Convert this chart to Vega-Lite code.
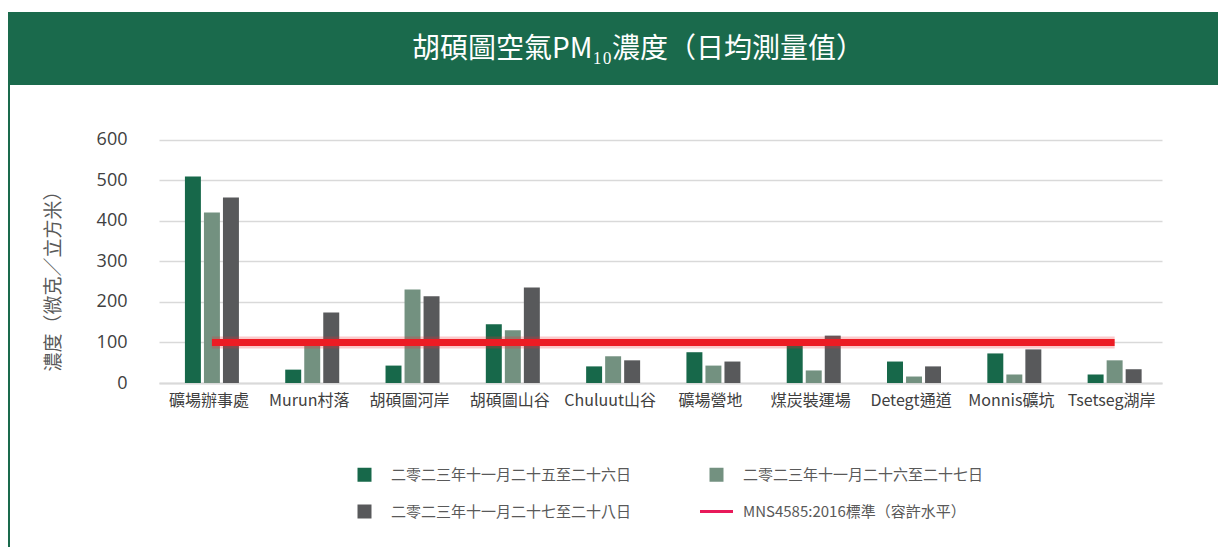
{
  "$schema": "https://vega.github.io/schema/vega-lite/v6.json",
  "padding": {"left": 8, "top": 12, "right": 0, "bottom": 0},
  "background": "white",
  "spacing": 0,
  "config": {
    "view": {"stroke": null},
    "font": "Noto Sans CJK TC",
    "concat": {"spacing": 0}
  },
  "datasets": {
    "title": [{"t": "胡碩圖空氣PM₁₀濃度（日均測量值）"}],
    "pm": [
      {"site": "礦場辦事處", "period": "二零二三年十一月二十五至二十六日", "value": 510},
      {"site": "礦場辦事處", "period": "二零二三年十一月二十六至二十七日", "value": 421},
      {"site": "礦場辦事處", "period": "二零二三年十一月二十七至二十八日", "value": 458},
      {"site": "Murun村落", "period": "二零二三年十一月二十五至二十六日", "value": 33},
      {"site": "Murun村落", "period": "二零二三年十一月二十六至二十七日", "value": 97},
      {"site": "Murun村落", "period": "二零二三年十一月二十七至二十八日", "value": 174},
      {"site": "胡碩圖河岸", "period": "二零二三年十一月二十五至二十六日", "value": 43},
      {"site": "胡碩圖河岸", "period": "二零二三年十一月二十六至二十七日", "value": 231},
      {"site": "胡碩圖河岸", "period": "二零二三年十一月二十七至二十八日", "value": 214},
      {"site": "胡碩圖山谷", "period": "二零二三年十一月二十五至二十六日", "value": 145},
      {"site": "胡碩圖山谷", "period": "二零二三年十一月二十六至二十七日", "value": 130},
      {"site": "胡碩圖山谷", "period": "二零二三年十一月二十七至二十八日", "value": 236},
      {"site": "Chuluut山谷", "period": "二零二三年十一月二十五至二十六日", "value": 41},
      {"site": "Chuluut山谷", "period": "二零二三年十一月二十六至二十七日", "value": 66},
      {"site": "Chuluut山谷", "period": "二零二三年十一月二十七至二十八日", "value": 56},
      {"site": "礦場營地", "period": "二零二三年十一月二十五至二十六日", "value": 76},
      {"site": "礦場營地", "period": "二零二三年十一月二十六至二十七日", "value": 43},
      {"site": "礦場營地", "period": "二零二三年十一月二十七至二十八日", "value": 53},
      {"site": "煤炭裝運場", "period": "二零二三年十一月二十五至二十六日", "value": 97},
      {"site": "煤炭裝運場", "period": "二零二三年十一月二十六至二十七日", "value": 31},
      {"site": "煤炭裝運場", "period": "二零二三年十一月二十七至二十八日", "value": 117},
      {"site": "Detegt通道", "period": "二零二三年十一月二十五至二十六日", "value": 53},
      {"site": "Detegt通道", "period": "二零二三年十一月二十六至二十七日", "value": 16},
      {"site": "Detegt通道", "period": "二零二三年十一月二十七至二十八日", "value": 41},
      {"site": "Monnis礦坑", "period": "二零二三年十一月二十五至二十六日", "value": 73},
      {"site": "Monnis礦坑", "period": "二零二三年十一月二十六至二十七日", "value": 21},
      {"site": "Monnis礦坑", "period": "二零二三年十一月二十七至二十八日", "value": 83},
      {"site": "Tsetseg湖岸", "period": "二零二三年十一月二十五至二十六日", "value": 21},
      {"site": "Tsetseg湖岸", "period": "二零二三年十一月二十六至二十七日", "value": 56},
      {"site": "Tsetseg湖岸", "period": "二零二三年十一月二十七至二十八日", "value": 34}
    ],
    "std": [{"from": "礦場辦事處", "to": "Tsetseg湖岸", "limit": 100}]
  },
  "vconcat": [
    {
      "width": 1210,
      "height": 73,
      "view": {"fill": "#1a6a4c", "stroke": null},
      "data": {"name": "title"},
      "mark": {"type": "text", "color": "white", "fontSize": 28, "font": "Noto Sans CJK TC", "dx": 25, "dy": 1, "baseline": "middle", "align": "center"},
      "encoding": {"text": {"field": "t"}}
    },
    {
      "spacing": 34,
      "hconcat": [
        {
          "width": 2,
          "height": 462,
          "view": {"fill": "#1a6a4c", "stroke": null},
          "data": {"values": [{"e": ""}]},
          "mark": {"type": "text"},
          "encoding": {"text": {"field": "e"}}
        },
        {
          "width": 1003,
          "height": 298,
          "layer": [
            {
              "data": {"name": "pm"},
              "mark": {"type": "bar"},
              "encoding": {
                "x": {
                  "field": "site", "type": "nominal",
                  "scale": {
                    "domain": ["礦場辦事處", "Murun村落", "胡碩圖河岸", "胡碩圖山谷", "Chuluut山谷", "礦場營地", "煤炭裝運場", "Detegt通道", "Monnis礦坑", "Tsetseg湖岸"],
                    "paddingInner": 0.4616, "paddingOuter": 0.2308, "align": 0.56
                  },
                  "axis": {
                    "title": null, "labelAngle": 0, "labelFontSize": 16, "labelColor": "#404040",
                    "labelFont": "Noto Sans CJK TC", "domainColor": "#d9d9d9", "domainWidth": 2,
                    "ticks": false, "labelPadding": 9, "labelOffset": -3, "grid": false
                  }
                },
                "xOffset": {
                  "field": "period", "type": "nominal", "sort": null,
                  "scale": {"paddingInner": 0.16, "paddingOuter": 0}
                },
                "y": {
                  "field": "value", "type": "quantitative",
                  "scale": {"domain": [0, 735.8], "nice": false, "zero": true},
                  "axis": {
                    "values": [0, 100, 200, 300, 400, 500, 600],
                    "grid": true, "gridColor": "#d9d9d9", "gridWidth": 1.5,
                    "domain": false, "ticks": false,
                    "labelFontSize": 18, "labelColor": "#404040", "labelFont": "Open Sans",
                    "labelPadding": 32,
                    "title": "濃度（微克／立方米）", "titleFontSize": 19, "titleFont": "Noto Sans CJK TC",
                    "titleFontWeight": "normal", "titleColor": "#595959", "titlePadding": 33,
                    "titleY": 191
                  }
                },
                "color": {
                  "field": "period", "type": "nominal",
                  "scale": {
                    "domain": ["二零二三年十一月二十五至二十六日", "二零二三年十一月二十六至二十七日", "二零二三年十一月二十七至二十八日", "MNS4585:2016標準（容許水平）"],
                    "range": ["#17684a", "#739180", "#58595b", "#e8195a"]
                  },
                  "legend": {
                    "orient": "none", "legendX": 348, "legendY": 454, "direction": "horizontal",
                    "columns": 2, "columnPadding": 62, "rowPadding": 10,
                    "title": null, "labelFontSize": 15, "labelColor": "#595959",
                    "labelFont": "Noto Sans CJK TC", "labelLimit": 400, "labelOffset": 18,
                    "symbolType": "square", "symbolSize": 1089, "symbolStrokeWidth": 0,
                    "encode": {
                      "symbols": {
                        "update": {
                          "shape": {"signal": "datum.value === 'MNS4585:2016標準（容許水平）' ? 'stroke' : 'square'"},
                          "size": {"signal": "datum.value === 'MNS4585:2016標準（容許水平）' ? 1089 : 196"},
                          "stroke": {"signal": "datum.value === 'MNS4585:2016標準（容許水平）' ? '#e8195a' : 'transparent'"},
                          "strokeWidth": {"value": 3}
                        }
                      }
                    }
                  }
                }
              }
            },
            {
              "data": {"name": "std"},
              "mark": {"type": "rule", "color": "#ee2a2e", "strokeWidth": 12, "opacity": 0.25},
              "encoding": {
                "x": {"field": "from", "type": "nominal", "bandPosition": 0.5},
                "x2": {"field": "to"},
                "y": {"field": "limit", "type": "quantitative"}
              }
            },
            {
              "data": {"name": "std"},
              "mark": {"type": "rule", "color": "#ec1c24", "strokeWidth": 7},
              "encoding": {
                "x": {"field": "from", "type": "nominal", "bandPosition": 0.5},
                "x2": {"field": "to"},
                "y": {"field": "limit", "type": "quantitative"}
              }
            }
          ]
        }
      ]
    }
  ]
}
